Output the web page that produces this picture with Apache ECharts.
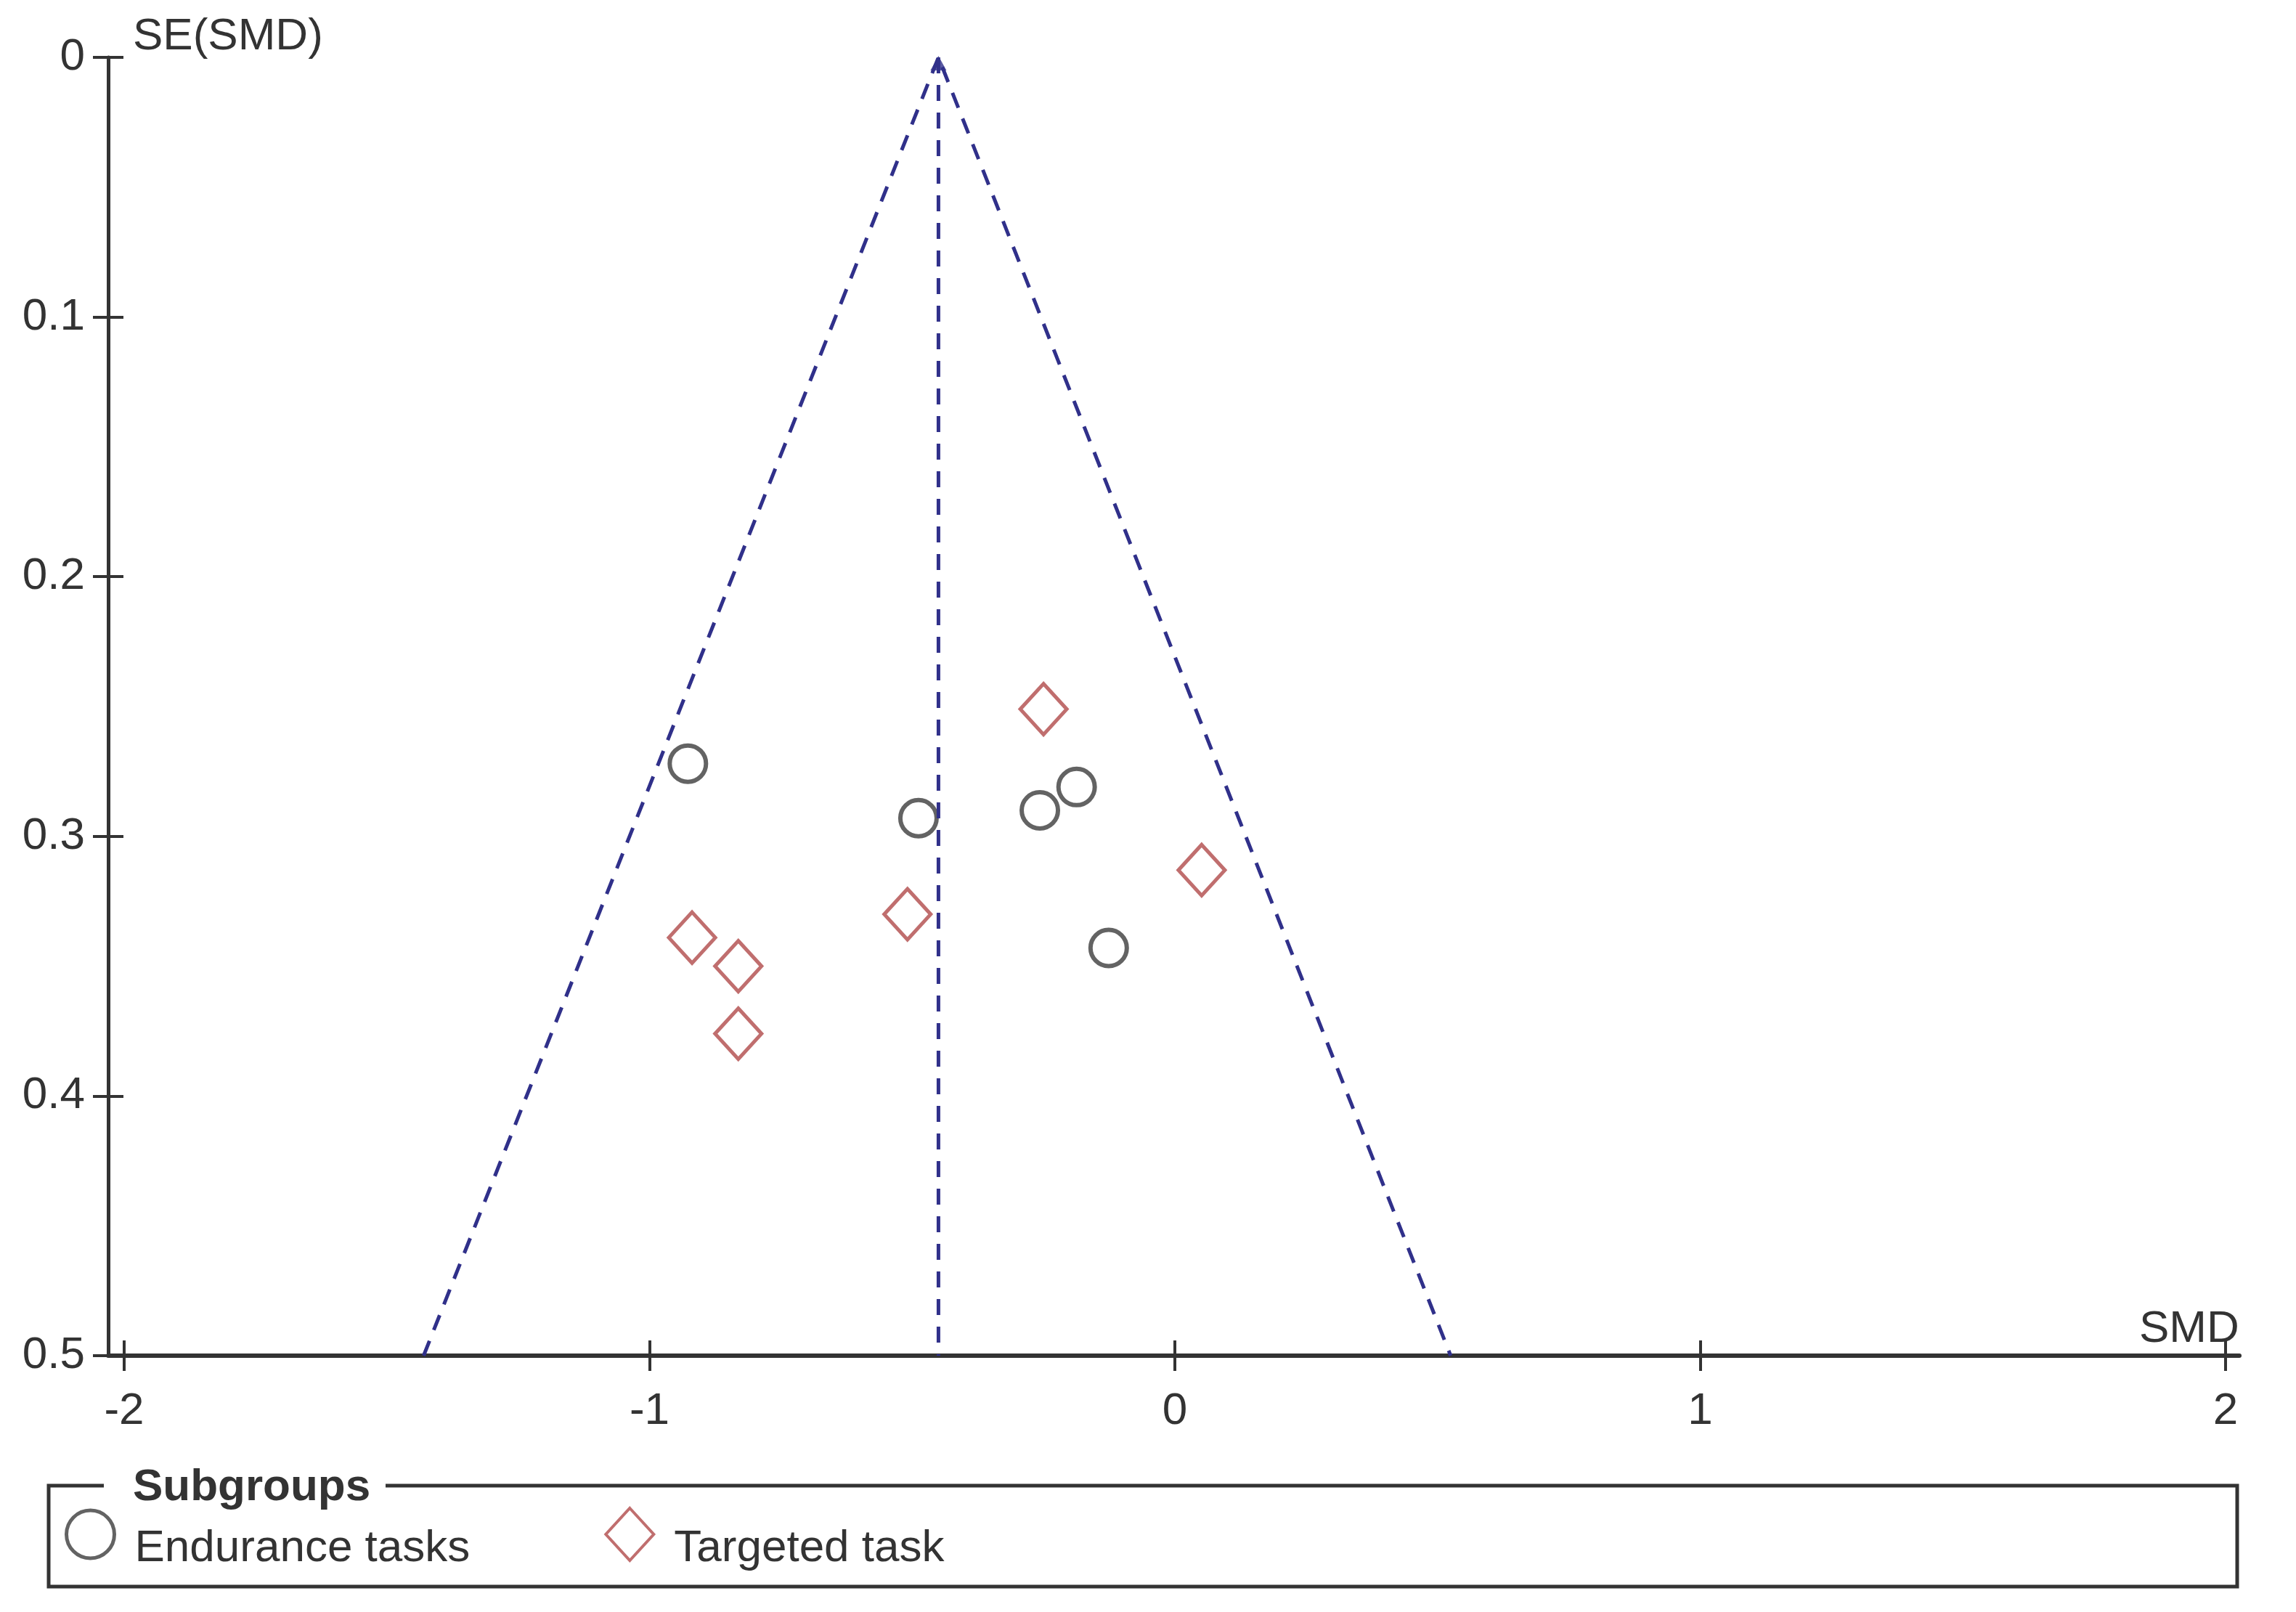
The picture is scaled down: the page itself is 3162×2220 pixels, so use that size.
<!DOCTYPE html>
<html>
<head>
<meta charset="utf-8">
<title>Funnel plot</title>
<script src="https://cdn.jsdelivr.net/npm/echarts@6/dist/echarts.min.js"></script>
<style>
  html, body { margin: 0; padding: 0; background: #fff; }
  #chart { width: 3162px; height: 2220px; }
</style>
</head>
<body>
<div id="chart"></div>
<script>
// values
const xTicks = [-2, -1, 0, 1, 2];
const yTicks = [0, 0.1, 0.2, 0.3, 0.4, 0.5];

const enduranceSMD = [-0.927, -0.488, -0.257, -0.187, -0.126];
const enduranceSE  = [0.272, 0.293, 0.290, 0.281, 0.343];

const targetedSMD = [-0.250, 0.051, -0.509, -0.919, -0.831, -0.831];
const targetedSE  = [0.251, 0.313, 0.330, 0.339, 0.350, 0.376];

// funnel outline (left foot, apex, right foot) and the pooled line
const funnelSMD = [-1.43, -0.45, 0.525];
const funnelSE  = [0.5, 0, 0.5];
const pooledSMD = [-0.45, -0.45];
const pooledSE  = [0, 0.5];

const FONT = '"Liberation Sans", Arial, sans-serif';
const TEXT = '#333';
const AXIS = '#333';
const DASH = '#30308a';
const CIRCLE = '#3c3c3c';
const DIAMOND = '#b04a4a';

function zip(xs, ys) {
  return xs.map((x, i) => [x, ys[i]]);
}

const xBase = {
  type: 'value', position: 'bottom', min: -2.0304, max: 2.0263,
  splitLine: { show: false }
};
const yBase = {
  type: 'value', position: 'left', inverse: true, min: 0, max: 0.5,
  splitLine: { show: false }
};

const option = {
  backgroundColor: '#fff',
  animation: false,
  grid: { left: 149, right: 78, top: 79, bottom: 353, outerBoundsMode: 'none' },
  xAxis: [
    Object.assign({}, xBase, {
      axisLine: { onZero: false, lineStyle: { color: AXIS, width: 6 } },
      axisTick: { customValues: xTicks, length: 21, lineStyle: { color: AXIS, width: 4 } },
      axisLabel: { customValues: xTicks, margin: 46, fontSize: 62, color: TEXT, fontFamily: FONT }
    }),
    // second axis only adds the inner half of each tick
    Object.assign({}, xBase, {
      axisLine: { show: false, onZero: false },
      axisTick: { customValues: xTicks, inside: true, length: 21, lineStyle: { color: AXIS, width: 4 } },
      axisLabel: { show: false }
    })
  ],
  yAxis: [
    Object.assign({}, yBase, {
      axisLine: { onZero: false, lineStyle: { color: AXIS, width: 5 } },
      axisTick: { customValues: yTicks, length: 21, lineStyle: { color: AXIS, width: 4 } },
      axisLabel: {
        customValues: yTicks, margin: 32, fontSize: 62, color: TEXT, fontFamily: FONT,
        verticalAlign: 'middle', padding: [24, 0, 0, 0]
      }
    }),
    Object.assign({}, yBase, {
      axisLine: { show: false, onZero: false },
      axisTick: { customValues: yTicks, inside: true, length: 21, lineStyle: { color: AXIS, width: 4 } },
      axisLabel: { show: false }
    })
  ],
  legend: {
    left: 89, top: 2062, padding: 0,
    itemWidth: 66, itemHeight: 72, itemGap: 185,
    selectedMode: false,
    // blank first line pushes the label a little below the marker
    formatter: '\n{name}',
    textStyle: { fontSize: 62, lineHeight: 40, color: TEXT, fontFamily: FONT, padding: [0, 0, 0, 23] },
    data: [
      { name: 'Endurance tasks', icon: 'circle',
        itemStyle: { color: 'rgba(0,0,0,0)', borderColor: CIRCLE, borderWidth: 5 } },
      { name: 'Targeted task', icon: 'diamond',
        itemStyle: { color: 'rgba(0,0,0,0)', borderColor: DIAMOND, borderWidth: 4 } }
    ]
  },
  graphic: [
    { type: 'text', left: 183, top: 20,
      style: { text: 'SE(SMD)', font: '62px ' + FONT, fill: TEXT } },
    { type: 'text', left: 2946, top: 1800,
      style: { text: 'SMD', font: '62px ' + FONT, fill: TEXT } },
    // legend frame, open where the title sits
    { type: 'polyline', silent: true,
      shape: { points: [[143, 2046], [67, 2046], [67, 2185], [3081, 2185], [3081, 2046], [531, 2046]] },
      style: { stroke: AXIS, lineWidth: 5, fill: null } },
    { type: 'text', left: 183, top: 2018,
      style: { text: 'Subgroups', font: 'bold 62px ' + FONT, fill: TEXT } }
  ],
  series: [
    {
      name: 'funnel', type: 'line', data: zip(funnelSMD, funnelSE),
      symbol: 'none', silent: true,
      lineStyle: { color: DASH, width: 5, type: [22, 16] }
    },
    {
      name: 'pooled', type: 'line', data: zip(pooledSMD, pooledSE),
      symbol: 'none', silent: true,
      lineStyle: { color: DASH, width: 5, type: [22, 16] }
    },
    {
      name: 'apex', type: 'scatter', data: [[pooledSMD[0], 0]],
      symbol: 'triangle', symbolSize: [22, 20], symbolOffset: [0, 8],
      itemStyle: { color: DASH }
    },
    {
      name: 'Endurance tasks', type: 'scatter', data: zip(enduranceSMD, enduranceSE),
      symbol: 'circle', symbolSize: 50,
      itemStyle: { color: 'rgba(0,0,0,0)', borderColor: CIRCLE, borderWidth: 6 }
    },
    {
      name: 'Targeted task', type: 'scatter', data: zip(targetedSMD, targetedSE),
      symbol: 'diamond', symbolSize: [64, 70],
      itemStyle: { color: 'rgba(0,0,0,0)', borderColor: DIAMOND, borderWidth: 5 }
    }
  ]
};

const myChart = echarts.init(document.getElementById('chart'));
myChart.setOption(option);
</script>
</body>
</html>
